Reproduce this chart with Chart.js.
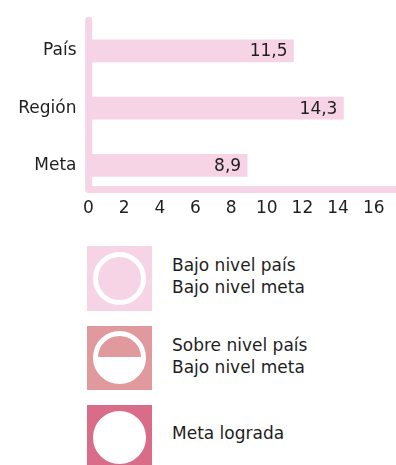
<!DOCTYPE html>
<html lang="es">
<head>
<meta charset="utf-8">
<script src="https://cdn.jsdelivr.net/npm/chart.js@4/dist/chart.umd.min.js"></script>
<style>
  html, body { margin: 0; padding: 0; background: #fff; }
  body { width: 396px; height: 465px; overflow: hidden; position: relative;
         font-family: "DejaVu Sans", sans-serif; color: #1e1e1e; }
  #chartBox { position: absolute; left: 0; top: 0; width: 396px; height: 225px; }
  .key { position: absolute; left: 87px; width: 65px; height: 65px; }
  .key .dot { position: absolute; left: 6px; top: 6px; width: 53px; height: 53px;
              box-sizing: border-box; border-radius: 50%; border: 5px solid #fff; }
  .caption { position: absolute; left: 172px; font-size: 17px; line-height: 22px; white-space: nowrap; }
</style>
</head>
<body>
<div id="chartBox"><canvas id="chart"></canvas></div>

<div class="key" style="top:246px; background:#f6d4e6;">
  <div class="dot"></div>
</div>
<div class="caption" style="top:254px;">Bajo nivel país<br>Bajo nivel meta</div>

<div class="key" style="top:326px; height:64px; background:#e0999d;">
  <div class="dot" style="top:5px; background:linear-gradient(to bottom, #e0999d 50%, #fff 50%);"></div>
</div>
<div class="caption" style="top:334px;">Sobre nivel país<br>Bajo nivel meta</div>

<div class="key" style="top:405px; background:#d96d89;">
  <div class="dot" style="background:#fff;"></div>
</div>
<div class="caption" style="top:422px;">Meta lograda</div>

<script>
// Indicator values
const categories = ["País", "Región", "Meta"];
const values = [11.5, 14.3, 8.9];
const tickValues = [0, 2, 4, 6, 8, 10, 12, 14, 16];

const PINK = "#f6d4e6";
const TEXT = "#1e1e1e";
const FONT = "DejaVu Sans";

const fmt = v => String(v).replace(".", ",");

// L-shaped axis with rounded ends
const axisFrame = {
  id: "axisFrame",
  beforeDatasetsDraw(chart) {
    const { ctx, chartArea, scales } = chart;
    const x0 = scales.x.getPixelForValue(0) + 0.2;
    const yb = chartArea.bottom - 4.5;
    ctx.save();
    ctx.strokeStyle = PINK;
    ctx.lineWidth = 7;
    ctx.lineCap = "round";
    ctx.lineJoin = "round";
    ctx.beginPath();
    ctx.moveTo(x0, chartArea.top - 2);
    ctx.lineTo(x0, yb);
    ctx.lineTo(chart.width + 10, yb);
    ctx.stroke();
    ctx.restore();
  }
};

// Value text inside the end of each bar
const barValues = {
  id: "barValues",
  afterDatasetsDraw(chart) {
    const { ctx } = chart;
    const meta = chart.getDatasetMeta(0);
    ctx.save();
    ctx.fillStyle = TEXT;
    ctx.font = `17px "${FONT}"`;
    ctx.textAlign = "right";
    ctx.textBaseline = "middle";
    meta.data.forEach((bar, i) => {
      ctx.fillText(fmt(values[i]), bar.x - 6, bar.y + 1);
    });
    ctx.restore();
  }
};

new Chart(document.getElementById("chart"), {
  type: "bar",
  data: {
    labels: categories,
    datasets: [{
      data: values,
      backgroundColor: PINK,
      borderWidth: 0,
      barThickness: 22
    }]
  },
  options: {
    indexAxis: "y",
    responsive: true,
    maintainAspectRatio: false,
    animation: false,
    layout: { padding: { top: 18.5, right: 0, bottom: 0, left: 0 } },
    plugins: { legend: { display: false }, tooltip: { enabled: false } },
    scales: {
      x: {
        min: 0,
        max: 17.25,
        grid: { display: false, drawTicks: false },
        border: { display: false },
        afterBuildTicks: s => { s.ticks = tickValues.map(v => ({ value: v })); },
        afterFit: s => { s.height = 31; },
        ticks: {
          padding: 4,
          color: TEXT,
          font: { family: FONT, size: 17 },
          callback: v => String(v)
        }
      },
      y: {
        grid: { display: false, drawTicks: false },
        border: { display: false },
        afterFit: s => { s.width = 88.5; },
        ticks: {
          padding: 12,
          color: TEXT,
          font: { family: FONT, size: 17 }
        }
      }
    }
  },
  plugins: [axisFrame, barValues]
});
</script>
</body>
</html>
